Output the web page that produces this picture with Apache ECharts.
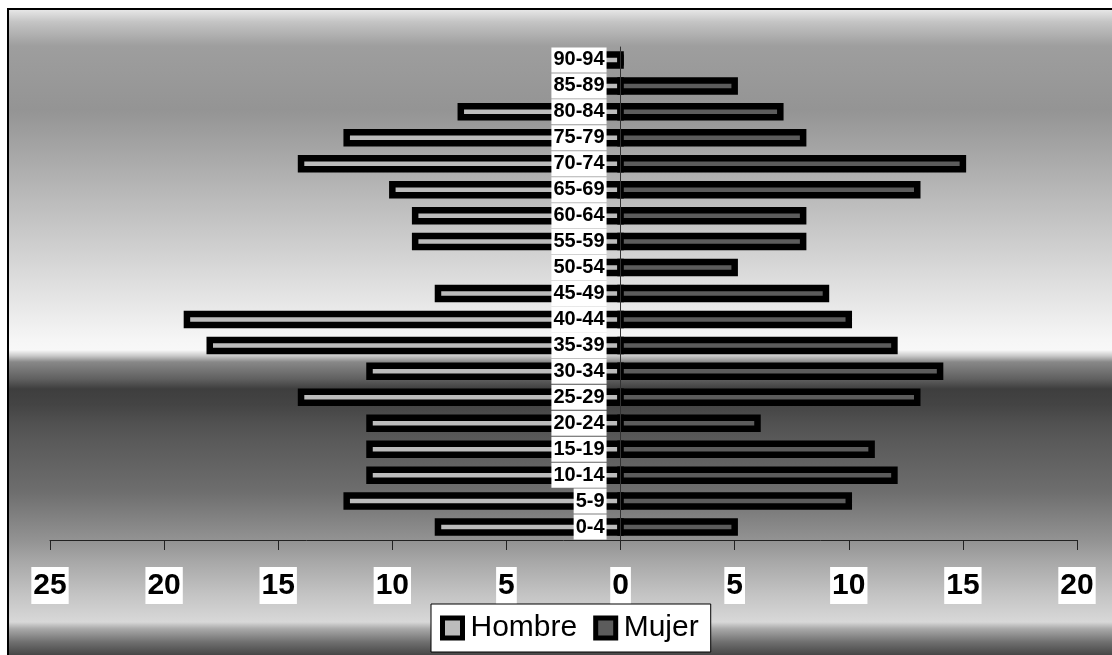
<!DOCTYPE html>
<html>
<head>
<meta charset="utf-8">
<script src="https://cdn.jsdelivr.net/npm/echarts@6/dist/echarts.min.js"></script>
<style>
  html, body { margin: 0; padding: 0; width: 1112px; height: 655px; overflow: hidden; background: #ffffff; }
  #frame {
    position: absolute; left: 7px; top: 8px; width: 1120px; height: 660px;
    border: 2px solid #000; box-sizing: border-box;
    background: linear-gradient(to bottom,
      #e6e6e6 0px, #c4c4c4 12px, #9e9e9e 36px, #949494 100px, #bcbcbc 192px,
      #dedede 272px, #f6f6f6 330px, #f8f8f8 340px, #c8c8c8 346px, #888888 352px,
      #606060 369px, #3e3e3e 379px, #444444 395px, #505050 412px, #5a5a5a 432px,
      #6e6e6e 482px, #949494 532px, #a8a8a8 552px, #c4c4c4 585px, #d8d8d8 612px,
      #a8a8a8 619px, #707070 632px, #404040 647px);
  }
  #chart { position: absolute; left: 0; top: 0; width: 1112px; height: 655px; }
</style>
</head>
<body>
<div id="frame"></div>
<div id="chart"></div>
<script>
// Age groups, bottom to top
const categories = ['0-4','5-9','10-14','15-19','20-24','25-29','30-34','35-39','40-44','45-49',
                    '50-54','55-59','60-64','65-69','70-74','75-79','80-84','85-89','90-94'];
const hombre = [8, 12, 11, 11, 11, 14, 11, 18, 19, 8, 1, 9, 9, 10, 14, 12, 7, 1, 1];
const mujer  = [5, 10, 12, 11, 6, 13, 14, 12, 10, 9, 5, 8, 8, 13, 15, 8, 7, 5, 0];
const xTicks = { min: -25, max: 20, interval: 5 };

const GRID = { left: 50, right: 35, top: 47, bottom: 115 };
const gridWidth = 1112 - GRID.left - GRID.right;
const zeroOffset = (0 - xTicks.min) / (xTicks.max - xTicks.min) * gridWidth;

const BAR_H = 11, BAR_BORDER = 6.5;
function makeRender(fill) {
  return function (params, api) {
    const cat = api.value(0);
    const val = api.value(1);
    const p0 = api.coord([0, cat]);
    const p1 = api.coord([val, cat]);
    const x = Math.min(p0[0], p1[0]);
    const w = Math.abs(p1[0] - p0[0]);
    return {
      type: 'rect',
      shape: { x: x, y: p0[1] - BAR_H / 2, width: w, height: BAR_H },
      style: { fill: fill, stroke: '#000000', lineWidth: BAR_BORDER }
    };
  };
}

const chart = echarts.init(document.getElementById('chart'), null, { renderer: 'canvas' });
chart.setOption({
  backgroundColor: 'transparent',
  animation: false,
  grid: { left: GRID.left, right: GRID.right, top: GRID.top, bottom: GRID.bottom, containLabel: false, outerBoundsMode: 'none' },
  legend: {
    left: 431, top: 604,
    backgroundColor: '#ffffff', borderColor: '#000000', borderWidth: 1,
    padding: [9, 12, 9, 9],
    itemGap: 16, itemWidth: 20, itemHeight: 20,
    itemStyle: { borderColor: '#000000', borderWidth: 5 },
    textStyle: { fontFamily: 'Liberation Sans, Arial, sans-serif', fontSize: 30, color: '#000', padding: [0, 0, 0, 3] },
    data: [{ name: 'Hombre', icon: 'rect' }, { name: 'Mujer', icon: 'rect' }]
  },
  xAxis: {
    type: 'value', min: xTicks.min, max: xTicks.max, interval: xTicks.interval,
    splitLine: { show: false },
    axisLine: { show: true, onZero: false, lineStyle: { color: '#222', width: 1 } },
    axisTick: { show: true, length: 10, lineStyle: { color: '#222', width: 1 } },
    axisLabel: {
      margin: 27,
      formatter: v => String(Math.abs(v)),
      fontFamily: 'Liberation Sans, Arial, sans-serif', fontWeight: 'bold', fontSize: 30, color: '#000',
      backgroundColor: '#ffffff', padding: [4, 2, 3, 2]
    }
  },
  yAxis: {
    type: 'category', data: categories, z: 10,
    position: 'left', offset: -zeroOffset,
    axisLine: { show: true, onZero: false, lineStyle: { color: '#333', width: 1 } },
    axisTick: { show: false },
    axisLabel: {
      interval: 0, hideOverlap: false,
      margin: 14,
      fontFamily: 'Liberation Sans, Arial, sans-serif', fontWeight: 'bold', fontSize: 20, color: '#000',
      backgroundColor: '#ffffff', lineHeight: 25, padding: [0, 2, 0, 2]
    }
  },
  series: [
    {
      name: 'Hombre', type: 'custom', z: 2,
      itemStyle: { color: '#bcbcbc' },
      encode: { x: 1, y: 0 },
      renderItem: makeRender('#bcbcbc'),
      data: categories.map((c, i) => [c, -hombre[i]])
    },
    {
      name: 'Mujer', type: 'custom', z: 2,
      itemStyle: { color: '#5c5c5c' },
      encode: { x: 1, y: 0 },
      renderItem: makeRender('#5c5c5c'),
      data: categories.map((c, i) => [c, mujer[i]])
    }
  ]
});
</script>
</body>
</html>
